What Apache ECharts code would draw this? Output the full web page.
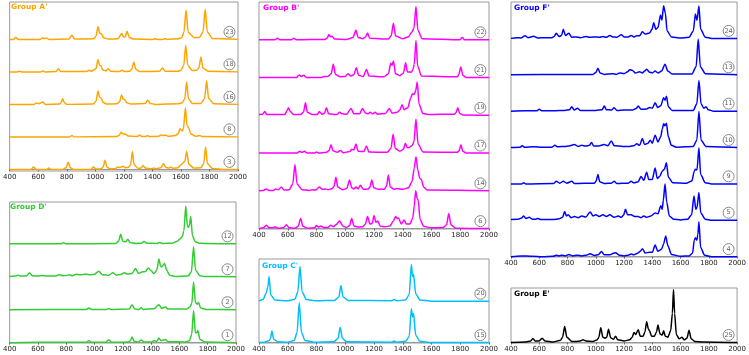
<!DOCTYPE html>
<html>
<head>
<meta charset="utf-8">
<script src="https://cdn.jsdelivr.net/npm/echarts@6/dist/echarts.min.js"></script>
<style>
html, body { margin: 0; padding: 0; background: #fff; }
#spectra { width: 749px; height: 355px; }
</style>
</head>
<body>
<div id="spectra"></div>
<script>
// x ticks shared by every panel
var xTicks = [400, 600, 800, 1000, 1200, 1400, 1600, 1800, 2000];

// ---- Group A' (bottom to top) ----
var A_IDS = [3, 8, 16, 18, 23];
var A3 = [[400,0],[550,0],[567,.07],[585,0],[660,0],[674,.04],[690,0],[770,0],[795,.05],[810,.22],[825,.05],[850,0],[970,0],[987,.07],[1005,.01],[1040,.02],[1055,.07],[1068,.28],[1081,.07],[1100,.02],[1140,.02],[1158,.07],[1175,.06],[1193,.1],[1210,.05],[1230,.06],[1248,.14],[1260,.55],[1272,.14],[1300,.03],[1320,.04],[1335,.12],[1350,.04],[1395,.02],[1408,.04],[1425,.02],[1460,.05],[1478,.17],[1495,.06],[1515,.04],[1529,.07],[1545,.03],[1580,.05],[1600,.14],[1615,.2],[1628,.25],[1640,.56],[1655,.16],[1690,.04],[1740,.05],[1760,.18],[1773,.69],[1786,.18],[1820,.03],[1900,0],[2000,0]];
var A8 = [[400,0],[820,0],[836,.04],[852,0],[1150,.01],[1168,.05],[1181,.14],[1195,.09],[1212,.08],[1230,.03],[1295,.01],[1311,.06],[1327,.01],[1350,.01],[1365,.04],[1380,.01],[1445,.02],[1460,.06],[1475,.04],[1490,.06],[1510,.02],[1560,.04],[1580,.1],[1594,.25],[1608,.18],[1618,.25],[1631,.89],[1643,.35],[1655,.28],[1668,.1],[1700,.02],[1733,.04],[1750,.01],[2000,0]];
var A16 = [[400,0],[570,0],[585,.04],[605,.02],[632,.07],[650,0],[750,.01],[760,.05],[771,.17],[783,.05],[800,0],[985,.01],[1005,.1],[1019,.41],[1030,.22],[1040,.2],[1055,.06],[1080,.01],[1150,.02],[1170,.08],[1184,.29],[1195,.16],[1205,.15],[1220,.05],[1250,.01],[1350,.03],[1367,.13],[1385,.03],[1420,0],[1580,.02],[1610,.05],[1627,.17],[1640,.69],[1653,.17],[1680,.03],[1740,.03],[1766,.18],[1780,.72],[1794,.18],[1830,.02],[2000,0]];
var A18 = [[400,0],[455,0],[470,.02],[485,0],[615,0],[632,.03],[650,0],[725,.01],[741,.1],[757,.01],[940,.01],[956,.05],[975,.02],[1005,.1],[1019,.38],[1030,.2],[1038,.2],[1052,.06],[1075,.03],[1091,.1],[1107,.02],[1170,.01],[1188,.05],[1205,.01],[1240,.02],[1256,.08],[1270,.3],[1284,.08],[1310,.01],[1450,.02],[1471,.12],[1490,.02],[1580,.02],[1600,.05],[1620,.2],[1634,.82],[1648,.2],[1680,.04],[1710,.05],[1726,.12],[1740,.46],[1754,.12],[1790,.02],[2000,0]];
var A23 = [[400,0],[425,0],[442,.06],[460,0],[615,0],[632,.05],[645,.02],[660,.04],[675,0],[815,.01],[836,.13],[855,.01],[990,.02],[1005,.1],[1019,.39],[1032,.18],[1042,.18],[1058,.05],[1090,.01],[1160,.02],[1184,.18],[1200,.07],[1210,.08],[1223,.25],[1238,.06],[1270,.01],[1405,0],[1420,.02],[1435,0],[1475,0],[1490,.02],[1505,0],[1580,.02],[1605,.05],[1621,.22],[1636,.9],[1651,.22],[1690,.06],[1730,.06],[1755,.23],[1770,.93],[1785,.23],[1820,.03],[2000,0]];

// ---- Group B' ----
var B_IDS = [6, 14, 17, 19, 21, 22];
var B6 = [[400,0],[430,.02],[450,.09],[470,.02],[495,.02],[510,.05],[530,.01],[570,.02],[590,.1],[610,.02],[650,.01],[672,.06],[690,.27],[705,.06],[740,.01],[785,.02],[800,.08],[815,.04],[830,.07],[850,.03],[880,.03],[900,.09],[918,.05],[935,.1],[960,.2],[985,.06],[1010,.03],[1030,.08],[1045,.27],[1060,.07],[1090,.04],[1120,.05],[1140,.12],[1155,.32],[1172,.12],[1188,.14],[1200,.35],[1213,.17],[1225,.2],[1245,.06],[1280,.05],[1310,.07],[1335,.2],[1350,.32],[1360,.27],[1370,.28],[1390,.12],[1410,.23],[1425,.12],[1450,.12],[1470,.28],[1480,.6],[1490,1.0],[1500,.8],[1508,.75],[1520,.25],[1545,.06],[1600,.02],[1680,.03],[1705,.1],[1720,.4],[1735,.1],[1770,.01],[2000,0]];
var B14 = [[400,0],[430,.01],[450,.05],[470,.01],[500,.01],[515,.05],[535,.03],[555,.1],[575,.02],[610,.03],[635,.18],[650,.7],[665,.18],[700,.03],[750,.01],[770,.03],[795,.02],[820,.1],[840,.04],[860,.05],[880,.03],[910,.06],[922,.12],[935,.36],[948,.1],[980,.03],[1010,.06],[1030,.29],[1045,.08],[1060,.05],[1075,.1],[1090,.05],[1105,.15],[1125,.04],[1160,.05],[1172,.1],[1185,.29],[1198,.08],[1230,.04],[1250,.05],[1270,.04],[1287,.12],[1300,.42],[1313,.1],[1340,.04],[1360,.06],[1400,.04],[1440,.08],[1465,.25],[1480,.6],[1492,.9],[1505,.55],[1518,.33],[1530,.3],[1545,.1],[1570,.02],[2000,0]];
var B17 = [[400,0],[665,0],[684,.05],[700,.02],[716,.05],[735,0],[785,0],[800,.03],[815,0],[870,.02],[888,.07],[901,.22],[915,.06],[945,.02],[966,.07],[985,.01],[1030,.04],[1046,.1],[1060,.08],[1074,.24],[1090,.05],[1130,.04],[1148,.19],[1164,.03],[1290,.02],[1318,.12],[1333,.5],[1348,.12],[1380,.05],[1405,.1],[1418,.26],[1432,.14],[1446,.15],[1465,.2],[1478,.3],[1492,.9],[1506,.25],[1540,.03],[1780,.02],[1792,.06],[1804,.22],[1818,.05],[1840,0],[2000,0]];
var B19 = [[400,.02],[425,.03],[440,.1],[455,.02],[580,.02],[595,.12],[605,.2],[618,.1],[640,.02],[690,.02],[710,.09],[723,.33],[736,.08],[770,.02],[805,.02],[820,.1],[838,.03],[855,.05],[869,.2],[884,.04],[940,.02],[961,.08],[980,.04],[1010,.03],[1040,.18],[1060,.04],[1100,.04],[1120,.18],[1140,.06],[1160,.04],[1173,.08],[1190,.04],[1208,.08],[1225,.03],[1280,.05],[1307,.18],[1325,.06],[1360,.08],[1380,.14],[1395,.28],[1410,.15],[1435,.2],[1455,.45],[1467,.57],[1478,.55],[1490,.65],[1501,.88],[1513,.3],[1540,.05],[1580,.02],[1760,.03],[1770,.07],[1783,.2],[1796,.05],[1820,.01],[2000,0]];
var B21 = [[400,0],[660,0],[679,.07],[695,.03],[712,.06],[730,0],[835,0],[850,.03],[880,.03],[902,.1],[917,.35],[932,.08],[965,.02],[1000,.03],[1019,.1],[1040,.04],[1060,.08],[1077,.26],[1093,.06],[1125,.03],[1148,.21],[1165,.04],[1270,.02],[1300,.1],[1317,.38],[1326,.32],[1335,.44],[1350,.1],[1380,.05],[1405,.12],[1420,.39],[1432,.15],[1444,.15],[1458,.14],[1470,.2],[1480,.35],[1492,.98],[1504,.3],[1530,.04],[1780,.02],[1790,.08],[1804,.28],[1818,.06],[1840,0],[2000,0]];
var B22 = [[400,0],[510,0],[527,.04],[545,0],[625,0],[642,.04],[660,0],[860,.01],[875,.05],[887,.14],[898,.08],[908,.09],[925,.02],[1010,.01],[1030,.03],[1055,.07],[1074,.25],[1090,.06],[1120,.03],[1140,.07],[1155,.18],[1170,.04],[1300,.02],[1320,.11],[1335,.44],[1350,.1],[1400,.03],[1440,.08],[1462,.2],[1478,.3],[1492,.88],[1505,.25],[1535,.03],[1800,0],[1813,.07],[1828,0],[2000,0]];

// ---- Group F' ----
var F_IDS = [4, 5, 9, 10, 11, 13, 24];
var F4 = [[400,0],[470,.02],[550,.01],[620,0],[700,.01],[720,.04],[740,.02],[760,.04],[785,.02],[810,.06],[835,.02],[870,.04],[900,.02],[935,.04],[960,.08],[990,.03],[1020,.06],[1040,.14],[1060,.05],[1100,.05],[1125,.09],[1140,.11],[1165,.04],[1200,.02],[1230,.04],[1250,.07],[1270,.05],[1300,.1],[1315,.15],[1330,.22],[1350,.1],[1380,.12],[1400,.12],[1420,.32],[1438,.15],[1465,.2],[1480,.35],[1495,.57],[1510,.3],[1535,.06],[1600,.01],[1660,.02],[1685,.1],[1697,.45],[1705,.52],[1715,.45],[1722,.6],[1730,.96],[1742,.25],[1770,.04],[1820,0],[2000,0]];
var F5 = [[400,.02],[450,.03],[475,.06],[490,.12],[505,.05],[530,.08],[550,.03],[575,.03],[590,.05],[610,.02],[700,.02],[740,.04],[765,.08],[780,.24],[792,.12],[805,.15],[825,.07],[850,.1],[875,.07],[900,.12],[930,.09],[960,.23],[980,.12],[1000,.15],[1025,.1],[1050,.15],[1075,.1],[1100,.15],[1130,.08],[1160,.12],[1180,.08],[1197,.14],[1210,.3],[1225,.15],[1250,.15],[1275,.1],[1300,.1],[1320,.07],[1340,.12],[1360,.08],[1390,.12],[1420,.2],[1440,.18],[1460,.4],[1470,.3],[1478,.55],[1490,1.0],[1502,.5],[1520,.12],[1550,.03],[1600,.01],[1650,.03],[1678,.15],[1695,.67],[1708,.3],[1716,.35],[1730,.76],[1743,.2],[1775,.03],[1820,0],[2000,0]];
var F9 = [[400,0],[475,0],[490,.03],[505,0],[700,.01],[720,.07],[745,.02],[770,.07],[795,.02],[830,.07],[850,.01],[990,.02],[1003,.08],[1015,.26],[1028,.06],[1060,.01],[1110,.02],[1130,.07],[1150,.01],[1230,.02],[1250,.07],[1270,.03],[1300,.06],[1320,.2],[1340,.1],[1360,.32],[1375,.12],[1400,.12],[1420,.44],[1435,.15],[1455,.22],[1470,.35],[1485,.4],[1500,.58],[1514,.18],[1545,.03],[1640,.02],[1680,.08],[1697,.35],[1705,.4],[1716,.38],[1730,.99],[1742,.26],[1775,.03],[1820,0],[2000,0]];
var F10 = [[400,0],[465,.01],[480,.05],[495,.01],[560,.02],[620,.01],[690,.01],[710,.06],[730,.02],[780,.03],[810,.04],[850,.08],[875,.03],[900,.06],[930,.04],[955,.06],[970,.14],[985,.04],[1020,.04],[1060,.08],[1085,.05],[1110,.18],[1130,.05],[1160,.04],[1200,.03],[1240,.03],[1270,.05],[1290,.1],[1310,.06],[1330,.25],[1345,.08],[1370,.12],[1385,.2],[1400,.12],[1420,.34],[1440,.15],[1460,.3],[1470,.5],[1480,.65],[1490,.6],[1500,.67],[1513,.3],[1535,.06],[1570,.01],[1690,.03],[1715,.2],[1730,1.0],[1745,.2],[1780,.03],[2000,0]];
var F11 = [[400,0],[500,.01],[580,.01],[600,.05],[620,.01],[700,.01],[780,.02],[815,.04],[830,.12],[848,.03],[870,.08],[890,.02],[960,.02],[1000,.02],[1045,.04],[1060,.14],[1075,.04],[1110,.03],[1130,.09],[1150,.02],[1200,.03],[1260,.03],[1285,.07],[1300,.14],[1320,.05],[1360,.06],[1380,.1],[1400,.08],[1420,.23],[1438,.1],[1460,.15],[1480,.37],[1490,.3],[1500,.41],[1514,.12],[1540,.02],[1690,.02],[1715,.2],[1730,.84],[1745,.2],[1765,.08],[1780,.12],[1795,.04],[1830,0],[2000,0]];
var F13 = [[400,0],[800,.01],[980,.01],[1000,.06],[1015,.18],[1030,.05],[1060,.01],[1120,.03],[1145,.01],[1170,.05],[1200,.03],[1225,.08],[1240,.14],[1260,.12],[1280,.05],[1310,.08],[1330,.05],[1345,.1],[1360,.15],[1380,.07],[1400,.05],[1420,.1],[1440,.05],[1465,.1],[1490,.29],[1510,.1],[1540,.02],[1680,.02],[1710,.22],[1725,.98],[1740,.22],[1775,.03],[2000,0]];
var F24 = [[400,0],[440,.02],[470,.01],[500,.07],[520,.02],[560,.06],[590,.01],[630,.02],[690,.02],[705,.05],[720,.14],[740,.05],[758,.08],[770,.25],[785,.08],[810,.14],[830,.03],[860,.04],[890,.02],[930,.05],[960,.03],[1000,.04],[1025,.03],[1050,.05],[1075,.03],[1100,.08],[1120,.04],[1150,.03],[1180,.1],[1200,.04],[1230,.04],[1250,.08],[1270,.04],[1290,.07],[1310,.07],[1330,.18],[1350,.12],[1380,.15],[1398,.25],[1410,.43],[1425,.25],[1440,.3],[1458,.64],[1468,.5],[1480,.9],[1492,.7],[1505,.2],[1535,.04],[1600,.01],[1660,.03],[1690,.2],[1705,.67],[1716,.5],[1730,.89],[1742,.25],[1775,.03],[1820,0],[2000,0]];

// ---- Group D' ----
var D_IDS = [1, 2, 7, 12];
var D1 = [[400,0],[600,.01],[940,.01],[960,.06],[980,.01],[1080,.01],[1100,.09],[1120,.01],[1240,.02],[1253,.06],[1265,.17],[1280,.04],[1310,.02],[1330,.08],[1350,.02],[1400,.02],[1420,.06],[1440,.04],[1455,.14],[1470,.06],[1500,.1],[1520,.03],[1640,.02],[1670,.06],[1687,.25],[1700,.98],[1713,.3],[1722,.3],[1730,.37],[1745,.1],[1780,.02],[2000,0]];
var D2 = [[400,0],[940,.01],[960,.05],[980,.01],[1085,.01],[1100,.04],[1115,.01],[1245,.02],[1265,.15],[1285,.02],[1315,.01],[1330,.06],[1345,.01],[1420,.03],[1455,.15],[1475,.04],[1500,.08],[1520,.02],[1650,.02],[1675,.08],[1688,.2],[1700,.84],[1713,.22],[1725,.17],[1735,.22],[1750,.05],[1790,.01],[2000,0]];
var D7 = [[400,.01],[440,.02],[460,.05],[480,.02],[520,.03],[540,.12],[560,.03],[600,.02],[630,.04],[660,.02],[720,.02],[750,.06],[780,.03],[800,.04],[820,.06],[845,.03],[870,.08],[895,.06],[920,.07],[940,.08],[970,.06],[1000,.08],[1030,.17],[1055,.06],[1100,.05],[1130,.12],[1155,.05],[1185,.07],[1210,.12],[1235,.08],[1265,.1],[1290,.25],[1310,.1],[1340,.15],[1360,.16],[1380,.27],[1400,.18],[1420,.1],[1440,.2],[1455,.54],[1467,.32],[1475,.3],[1485,.35],[1495,.4],[1510,.2],[1530,.05],[1570,.01],[1660,.02],[1685,.15],[1700,.91],[1714,.2],[1745,.03],[1780,.01],[2000,0]];
var D12 = [[400,0],[760,0],[780,.03],[800,0],[1150,.01],[1170,.08],[1185,.29],[1200,.08],[1220,.06],[1235,.14],[1250,.04],[1290,.01],[1330,.02],[1350,.07],[1370,.02],[1440,.01],[1460,.04],[1480,.01],[1550,.02],[1585,.08],[1605,.15],[1620,.22],[1632,.4],[1645,1.15],[1656,.55],[1662,.5],[1670,.55],[1680,.83],[1692,.25],[1710,.07],[1740,.02],[1780,.01],[2000,0]];

// ---- Group C' ----
var C_IDS = [15, 20];
var C15 = [[400,0],[440,.01],[470,.05],[480,.1],[490,.28],[502,.08],[530,.02],[600,.01],[645,.05],[665,.25],[680,.97],[695,.25],[720,.05],[780,.01],[920,.02],[950,.1],[965,.37],[980,.1],[1010,.02],[1320,.01],[1340,.04],[1360,.01],[1420,.03],[1445,.15],[1460,.82],[1468,.62],[1475,.7],[1490,.18],[1520,.03],[1600,0],[2000,0]];
var C20 = [[400,.01],[430,.05],[450,.2],[462,.35],[470,.6],[482,.15],[510,.03],[600,.01],[650,.05],[670,.22],[685,.84],[700,.22],[730,.04],[800,.01],[925,.02],[955,.1],[970,.38],[985,.1],[1020,.02],[1320,.01],[1340,.04],[1360,.01],[1420,.03],[1445,.16],[1460,.89],[1468,.6],[1475,.65],[1490,.18],[1520,.03],[1600,0],[2000,0]];

// ---- Group E' ----
var E_IDS = [25];
var E25 = [[400,0],[500,.01],[540,.03],[555,.075],[570,.03],[600,.03],[620,.08],[640,.03],[700,.01],[750,.04],[765,.1],[780,.3],[795,.1],[830,.02],[860,.02],[890,.03],[910,.05],[930,.03],[980,.02],[1010,.05],[1022,.1],[1035,.28],[1050,.1],[1065,.08],[1078,.1],[1090,.25],[1105,.09],[1125,.06],[1140,.12],[1155,.05],[1200,.03],[1240,.05],[1258,.1],[1270,.19],[1282,.15],[1300,.24],[1315,.12],[1335,.12],[1348,.2],[1360,.39],[1372,.26],[1380,.22],[1395,.12],[1415,.12],[1430,.2],[1440,.33],[1455,.16],[1470,.14],[1480,.22],[1492,.12],[1510,.1],[1530,.22],[1542,.55],[1550,1.0],[1558,.55],[1570,.15],[1590,.07],[1610,.1],[1625,.05],[1645,.08],[1660,.23],[1675,.07],[1700,.02],[1760,.01],[2000,0]];

var FONT = 'DejaVu Sans';

var panels = [
    {title: "Group A'", color: '#FFA500', ids: A_IDS, spectra: [A3, A8, A16, A18, A23],
     grid: {left: 7, top: 2, width: 231, height: 169}, yMin: -0.05, yMax: 5.15, titlePos: [11, 3]},
    {title: "Group B'", color: '#FF00FF', ids: B_IDS, spectra: [B6, B14, B17, B19, B21, B22],
     grid: {left: 259, top: 2, width: 230, height: 227}, yMin: -0.01, yMax: 6, titlePos: [263, 4]},
    {title: "Group F'", color: '#0000FF', ids: F_IDS, spectra: [F4, F5, F9, F10, F11, F13, F24],
     grid: {left: 511, top: 2, width: 229, height: 255}, yMin: -0.01, yMax: 7, titlePos: [514, 4]},
    {title: "Group D'", color: '#33CC33', ids: D_IDS, spectra: [D1, D2, D7, D12],
     grid: {left: 7, top: 202, width: 229, height: 141}, yMin: -0.01, yMax: 4.27, titlePos: [10, 203]},
    {title: "Group C'", color: '#00BFFF', ids: C_IDS, spectra: [C15, C20],
     grid: {left: 259, top: 259, width: 230, height: 84}, yMin: -0.01, yMax: 2.02, titlePos: [262, 262]},
    {title: "Group E'", color: '#000000', ids: E_IDS, spectra: [E25],
     grid: {left: 511, top: 288, width: 229, height: 55}, yMin: -0.01, yMax: 1.03, titlePos: [514, 290]}
];

var grids = [], xAxes = [], yAxes = [], titles = [], series = [];

panels.forEach(function (p, gi) {
    grids.push({
        left: p.grid.left, top: p.grid.top, width: p.grid.width, height: p.grid.height,
        show: true, borderColor: '#999', borderWidth: 1, backgroundColor: 'transparent'
    });
    xAxes.push({
        gridIndex: gi, type: 'value', min: xTicks[0], max: xTicks[xTicks.length - 1], interval: 200,
        axisLine: {show: true, lineStyle: {color: '#999', width: 1}},
        axisTick: {show: true, length: 2, lineStyle: {color: '#666'}},
        splitLine: {show: false},
        axisLabel: {fontSize: 7, color: '#222', fontFamily: FONT, margin: 3, showMinLabel: true, showMaxLabel: true,
                    formatter: function (v) { return String(v); }}
    });
    yAxes.push({
        gridIndex: gi, type: 'value', min: p.yMin, max: p.yMax, show: false, splitLine: {show: false}
    });
    titles.push({
        text: p.title, left: p.titlePos[0], top: p.titlePos[1], padding: 0,
        textStyle: {color: p.color, fontSize: 7.5, fontWeight: 'bold', fontFamily: FONT}
    });
    p.spectra.forEach(function (s, j) {
        series.push({
            type: 'line', xAxisIndex: gi, yAxisIndex: gi,
            data: s.map(function (pt) { return [pt[0], pt[1] + j]; }),
            showSymbol: false, symbol: 'none', silent: true, clip: false,
            smooth: 0.25, smoothMonotone: 'x',
            lineStyle: {color: p.color, width: 1.5},
            markPoint: {
                silent: true,
                symbol: 'circle', symbolSize: 11, symbolOffset: [0, -7.5],
                itemStyle: {color: '#fff', borderColor: '#888', borderWidth: 1},
                label: {show: true, position: 'inside', fontSize: 6.5, color: '#666', fontFamily: FONT,
                        formatter: String(p.ids[j])},
                data: [{coord: [1940, j]}]
            }
        });
    });
});

var myChart = echarts.init(document.getElementById('spectra'), null, {renderer: 'canvas'});
myChart.setOption({
    animation: false,
    backgroundColor: '#fff',
    title: titles,
    grid: grids,
    xAxis: xAxes,
    yAxis: yAxes,
    series: series
});
</script>
</body>
</html>
